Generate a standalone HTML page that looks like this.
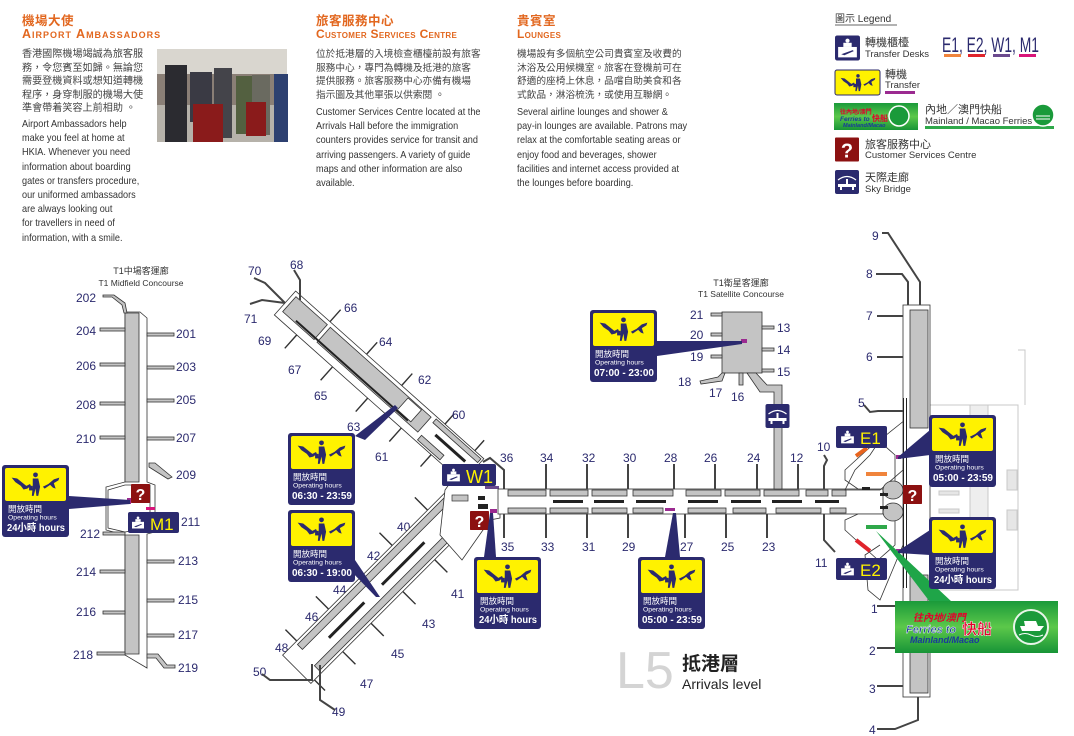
<!DOCTYPE html>
<html><head><meta charset="utf-8">
<style>
html,body{margin:0;padding:0;background:#fff;}
body{width:1074px;height:736px;overflow:hidden;position:relative;font-family:"Liberation Sans","Noto Sans CJK TC",sans-serif;}
.h{position:absolute;color:#e2671f;font-weight:bold;white-space:nowrap;}
.hc{font-size:12.5px;letter-spacing:0.5px;}
.he{font-size:12px;font-variant:small-caps;letter-spacing:0.3px;}
.b{position:absolute;color:#333;font-size:10.5px;line-height:14.2px;white-space:nowrap;transform:scaleX(0.87);transform-origin:0 0;}
.bc{position:absolute;color:#444;line-height:13.6px;white-space:nowrap;}
svg{position:absolute;left:0;top:0;}
</style></head><body>

<div class="h hc" style="left:22px;top:10px">機場大使</div>
<div class="h he" style="left:22px;top:27px;font-size:12.5px;letter-spacing:1px">Airport Ambassadors</div>
<div class="bc" style="left:22px;top:48px;font-size:10.1px">香港國際機場竭誠為旅客服<br>務，令您賓至如歸。無論您<br>需要登機資料或想知道轉機<br>程序，身穿制服的機場大使<br>準會帶着笑容上前相助 。</div>
<div class="b" style="left:22px;top:117px">Airport Ambassadors help<br>make you feel at home at<br>HKIA. Whenever you need<br>information about boarding<br>gates or transfers procedure,<br>our uniformed ambassadors<br>are always looking out<br>for travellers in need of<br>information, with a smile.</div>

<div class="h hc" style="left:316px;top:10px">旅客服務中心</div>
<div class="h he" style="left:316px;top:27px">Customer Services Centre</div>
<div class="bc" style="left:316px;top:48px;font-size:9.7px">位於抵港層的入境檢查櫃檯前設有旅客<br>服務中心，專門為轉機及抵港的旅客<br>提供服務。旅客服務中心亦備有機場<br>指示圖及其他單張以供索閱 。</div>
<div class="b" style="left:316px;top:105px">Customer Services Centre located at the<br>Arrivals Hall before the immigration<br>counters provides service for transit and<br>arriving passengers. A variety of guide<br>maps and other information are also<br>available.</div>

<div class="h hc" style="left:517px;top:10px">貴賓室</div>
<div class="h he" style="left:517px;top:27px">Lounges</div>
<div class="bc" style="left:517px;top:48px;font-size:9.7px">機場設有多個航空公司貴賓室及收費的<br>沐浴及公用候機室。旅客在登機前可在<br>舒適的座椅上休息，品嚐自助美食和各<br>式飲品，淋浴梳洗，或使用互聯網。</div>
<div class="b" style="left:517px;top:105px">Several airline lounges and shower &amp;<br>pay-in lounges are available. Patrons may<br>relax at the comfortable seating areas or<br>enjoy food and beverages, shower<br>facilities and internet access provided at<br>the lounges before boarding.</div>

<svg width="1074" height="736" viewBox="0 0 1074 736" font-family="Liberation Sans, Noto Sans CJK TC, sans-serif">
<defs>
<symbol id="ti" viewBox="0 0 60 30">
 <path d="M4 8 L10 9 L20 17 L24 15 L25 17 L21 20 L17 21 L14 17 L8 13 Z" fill="#2b2a6e"/>
 <circle cx="30" cy="5" r="2.6" fill="#2b2a6e"/>
 <path d="M27 9 L33 9 L35 18 L33 28 L31 28 L30 20 L28 28 L26 28 L27 18 Z" fill="#2b2a6e"/>
 <rect x="23" y="17" width="4" height="5" fill="#2b2a6e"/>
 <path d="M38 18 L44 15 L50 10 L56 8 L55 11 L50 14 L52 20 L49 19 L46 16 L40 20 Z" fill="#2b2a6e"/>
</symbol>
<symbol id="td" viewBox="0 0 24 24">
 <rect width="24" height="24" rx="2" fill="#2b2a6e"/>
 <circle cx="12" cy="5" r="2" fill="#fff"/>
 <rect x="8" y="7" width="8" height="4" fill="#fff"/>
 <rect x="3" y="11" width="18" height="10" fill="#fff"/>
 <path d="M6 18 L17 14 L18 15 L9 19 Z" fill="#2b2a6e"/>
</symbol>
<symbol id="q" viewBox="0 0 24 24">
 <rect width="24" height="24" rx="1" fill="#8c1111"/>
 <text x="12" y="20" font-size="20" font-weight="bold" fill="#fff" text-anchor="middle">?</text>
</symbol>
<symbol id="sb" viewBox="0 0 24 24">
 <rect width="24" height="24" rx="2" fill="#2b2a6e"/>
 <path d="M3 10 Q12 3 21 10" stroke="#fff" fill="none" stroke-width="1.2"/>
 <rect x="3" y="14" width="18" height="3" fill="#fff"/>
 <rect x="5" y="17" width="2" height="3" fill="#fff"/><rect x="17" y="17" width="2" height="3" fill="#fff"/>
 <rect x="11" y="9" width="2" height="5" fill="#fff"/>
</symbol>
<linearGradient id="gg" x1="0" y1="0" x2="0" y2="1"><stop offset="0" stop-color="#1a9a3a"/><stop offset="0.5" stop-color="#5cc84a"/><stop offset="1" stop-color="#179437"/></linearGradient>
</defs>

<!-- photo -->
<rect x="157" y="49" width="130" height="93" fill="#8a7f76"/>
<rect x="157" y="49" width="130" height="25" fill="#d9d6cf"/>
<rect x="157" y="105" width="130" height="37" fill="#b6b2aa"/>
<rect x="165" y="65" width="22" height="77" fill="#2b2b30"/>
<rect x="190" y="72" width="22" height="50" fill="#3a3a44"/>
<rect x="214" y="68" width="18" height="70" fill="#44444a"/>
<rect x="236" y="76" width="16" height="58" fill="#536040"/>
<rect x="252" y="75" width="18" height="60" fill="#6a6a60"/>
<rect x="274" y="74" width="14" height="68" fill="#2d4070"/>
<rect x="193" y="104" width="30" height="38" fill="#8a1b1b"/>
<rect x="246" y="102" width="20" height="34" fill="#8a1b1b"/>

<!-- legend -->
<text x="835" y="22" font-size="10" fill="#333">圖示 Legend</text>
<line x1="835" y1="25" x2="897" y2="25" stroke="#333" stroke-width="0.8"/>
<use href="#td" x="835" y="35" width="25" height="26"/>
<text x="865" y="46" font-size="11" fill="#333">轉機櫃檯</text>
<text x="865" y="57" font-size="9.5" fill="#333">Transfer Desks</text>
<text x="942" y="52" font-size="21" fill="#2b2a6e" textLength="97" lengthAdjust="spacingAndGlyphs">E1, E2, W1, M1</text>
<rect x="944" y="54" width="17" height="3" fill="#f0843c"/>
<rect x="968" y="54" width="17" height="3" fill="#e0242c"/>
<rect x="993" y="54" width="17" height="3" fill="#6b4a8e"/>
<rect x="1019" y="54" width="17" height="3" fill="#d9157a"/>
<rect x="835" y="70" width="45" height="25" rx="2" fill="#fff200" stroke="#2b2a6e" stroke-width="1"/>
<use href="#ti" x="838" y="72" width="40" height="21"/>
<text x="885" y="78" font-size="11" fill="#333">轉機</text>
<text x="885" y="88" font-size="9.5" fill="#333">Transfer</text>
<rect x="885" y="91" width="30" height="3" fill="#9b2a90"/>
<rect x="834" y="103" width="84" height="27" fill="url(#gg)"/>
<text x="840" y="114" font-size="6" fill="#e3002b" font-weight="bold">往內地/澳門</text>
<text x="840" y="121" font-size="6.5" fill="#1a3a9b" font-weight="bold" font-style="italic">Ferries to</text><text x="872" y="121" font-size="8" fill="#e3002b" font-weight="bold">快船</text>
<text x="843" y="127" font-size="5.5" fill="#1a3a9b" font-weight="bold" font-style="italic">Mainland/Macao</text>
<circle cx="899" cy="116" r="10" fill="#1a9a3a" stroke="#fff" stroke-width="1.5"/>
<text x="925" y="113" font-size="11" fill="#333">內地／澳門快船</text>
<text x="925" y="124" font-size="9.5" fill="#333">Mainland / Macao Ferries</text>
<rect x="925" y="126" width="129" height="3" fill="#2fa84a"/>
<circle cx="1043" cy="115" r="11" fill="#1a9a3a" stroke="#fff" stroke-width="1.5"/>
<path d="M1036 116 L1050 116 M1036 119 L1050 119" stroke="#fff" stroke-width="1"/>
<use href="#q" x="835" y="137" width="24" height="25"/>
<text x="865" y="148" font-size="11" fill="#333">旅客服務中心</text>
<text x="865" y="158" font-size="9.5" fill="#333">Customer Services Centre</text>
<use href="#sb" x="835" y="170" width="24" height="24"/>
<text x="865" y="181" font-size="11" fill="#333">天際走廊</text>
<text x="865" y="192" font-size="9.5" fill="#333">Sky Bridge</text>

<!-- Midfield concourse -->
<text x="141" y="274" font-size="9" fill="#333" text-anchor="middle">T1中場客運廊</text>
<text x="141" y="286" font-size="8.5" fill="#333" text-anchor="middle">T1 Midfield Concourse</text>
<g stroke="#333" stroke-width="0.8">
<path d="M125 312 L140 312 L147 318 L147 482 L155 485 L155 532 L147 534 L147 668 L125 655 L125 535 L106 530 L106 487 L125 482 Z" fill="#fff"/>
<path d="M125 313 L139 313 L139 482 L125 482 Z M125 535 L139 535 L139 654 L125 654 Z" fill="#c4c4c4"/>
<path d="M108 490 L125 485 L150 485 L150 528 L125 532 L108 528 Z" fill="#fff"/>
<g fill="#c4c4c4">
<path d="M103 297 L112 297 L122 305 L124 313 L127 313 L125 303 L114 295 L103 295 Z"/>
<rect x="100" y="328" width="25" height="3"/><rect x="100" y="363" width="25" height="3"/><rect x="100" y="402" width="25" height="3"/><rect x="100" y="436" width="25" height="3"/>
<rect x="103" y="532" width="22" height="3"/><rect x="100" y="570" width="25" height="3"/><rect x="103" y="611" width="22" height="3"/><rect x="97" y="652" width="28" height="3"/>
<rect x="147" y="333" width="27" height="3"/><rect x="147" y="366" width="27" height="3"/><rect x="147" y="399" width="27" height="3"/><rect x="147" y="437" width="27" height="3"/>
<path d="M149 463 L155 463 L172 477 L168 479 L149 467 Z"/>
<rect x="147" y="560" width="27" height="3"/><rect x="147" y="599" width="27" height="3"/><rect x="147" y="634" width="27" height="3"/>
<path d="M147 654 L158 654 L167 665 L175 665 L175 668 L164 668 L156 658 L147 658 Z"/>
</g></g>
<g font-size="12" fill="#2b2a6e">
<text x="96" y="302" text-anchor="end">202</text><text x="96" y="335" text-anchor="end">204</text><text x="96" y="370" text-anchor="end">206</text><text x="96" y="409" text-anchor="end">208</text><text x="96" y="443" text-anchor="end">210</text><text x="100" y="538" text-anchor="end">212</text><text x="96" y="576" text-anchor="end">214</text><text x="96" y="616" text-anchor="end">216</text><text x="93" y="659" text-anchor="end">218</text>
<text x="176" y="338">201</text><text x="176" y="371">203</text><text x="176" y="404">205</text><text x="176" y="442">207</text><text x="176" y="479">209</text><text x="181" y="526">211</text><text x="178" y="565">213</text><text x="178" y="604">215</text><text x="178" y="639">217</text><text x="178" y="672">219</text>
</g>
<use href="#q" x="131" y="484" width="19" height="19"/>
<rect x="127" y="498" width="4" height="6" fill="#9b2a90"/>
<rect x="146" y="507" width="9" height="3" fill="#d9157a"/>
<rect x="128" y="512" width="51" height="21" rx="2" fill="#2b2a6e"/>
<use href="#td" x="130" y="514" width="16" height="17"/>
<text x="150" y="530" font-size="17" fill="#fff200">M1</text>

<!-- NW arm -->
<g transform="translate(285,303) rotate(41.7)" stroke="#333" stroke-width="0.8">
 <rect x="0" y="-16" width="252" height="32" fill="#fff"/>
 <rect x="4" y="-12" width="42" height="20" fill="#c4c4c4"/>
 <rect x="50" y="-12" width="135" height="20" fill="#c4c4c4"/>
 <rect x="155" y="-11" width="18" height="16" fill="#fff"/>
 <rect x="190" y="8" width="30" height="6" fill="#c4c4c4"/>
 <rect x="190" y="-14" width="60" height="5" fill="#c4c4c4"/>
 <rect x="200" y="-3" width="40" height="3" fill="#222" stroke="none"/>
 <rect x="20" y="5" width="150" height="2" fill="#222" stroke="none"/>
 <g fill="none" stroke="#333" stroke-width="1.4">
 <path d="M46 -16 L46 -32 M95 -16 L95 -32 M142 -16 L142 -32 M200 -16 L200 -30 M240 -16 L240 -30"/>
 <path d="M30 16 L30 34 M78 16 L78 34 M125 16 L125 34 M170 16 L170 34 M210 16 L210 32"/>
 </g>
</g>
<g fill="none" stroke="#444" stroke-width="2">
<path d="M285 303 L265 283 L254 278 M285 303 L262 300 L250 304 M300 300 L300 280 L294 270"/>
</g>
<g font-size="12" fill="#2b2a6e">
<text x="248" y="275">70</text><text x="290" y="269">68</text><text x="244" y="323">71</text><text x="258" y="345">69</text><text x="344" y="312">66</text><text x="288" y="374">67</text><text x="379" y="346">64</text><text x="314" y="400">65</text><text x="418" y="384">62</text><text x="347" y="431">63</text><text x="452" y="419">60</text><text x="375" y="461">61</text>
<text x="397" y="531">40</text><text x="367" y="560">42</text><text x="451" y="598">41</text><text x="333" y="594">44</text><text x="422" y="628">43</text><text x="305" y="621">46</text><text x="391" y="658">45</text><text x="275" y="652">48</text><text x="360" y="688">47</text><text x="253" y="676">50</text><text x="332" y="716">49</text>
</g>

<!-- SW arm -->
<g transform="translate(470,496) rotate(135)" stroke="#333" stroke-width="0.8">
 <rect x="0" y="-20" width="245" height="40" fill="#fff"/>
 <rect x="40" y="-17" width="190" height="7" fill="#c4c4c4"/>
 <rect x="15" y="10" width="212" height="7" fill="#c4c4c4"/>
 <rect x="65" y="-2" width="60" height="3" fill="#222" stroke="none"/>
 <rect x="150" y="-2" width="50" height="3" fill="#222" stroke="none"/>
 <g fill="none" stroke="#333" stroke-width="1.4">
 <path d="M70 -20 L70 -38 M115 -20 L115 -38 M160 -20 L160 -38 M200 -20 L200 -38 M240 -20 L240 -35"/>
 <path d="M40 20 L40 38 M90 20 L90 38 M135 20 L135 38 M180 20 L180 38 M225 20 L225 36"/>
 </g>
</g>
<g fill="none" stroke="#444" stroke-width="2"><path d="M312 664 L312 680 L270 680 L262 674 M320 665 L320 700 L335 710"/></g>

<!-- W1 hub -->
<path d="M450 483 L490 483 L500 490 L500 518 L490 520 L462 560 L440 535 L445 490 Z" fill="#fff" stroke="#333" stroke-width="0.8"/>
<rect x="452" y="495" width="16" height="6" fill="#c4c4c4" stroke="#333" stroke-width="0.7"/>
<rect x="478" y="496" width="7" height="4" fill="#222"/><rect x="478" y="504" width="10" height="5" fill="#222"/>
<path d="M483 462 L490 458 L504 470 L504 490" fill="none" stroke="#444" stroke-width="2"/>
<rect x="442" y="464" width="54" height="22" rx="2" fill="#2b2a6e"/>
<use href="#td" x="445" y="466" width="17" height="18"/>
<text x="466" y="483" font-size="18" fill="#fff200">W1</text>
<rect x="485" y="486" width="14" height="3" fill="#6b4a8e"/>
<use href="#q" x="470" y="511" width="19" height="19"/>
<rect x="490" y="509" width="7" height="4" fill="#9b2a90"/>

<!-- Main pier -->
<g stroke="#333" stroke-width="0.8">
<rect x="498" y="489" width="385" height="25" fill="#fff"/>
<g fill="#c4c4c4">
<rect x="508" y="490" width="38" height="6"/><rect x="550" y="490" width="38" height="6"/><rect x="592" y="490" width="35" height="6"/><rect x="633" y="490" width="40" height="6"/><rect x="686" y="490" width="35" height="6"/><rect x="725" y="490" width="35" height="6"/><rect x="764" y="490" width="35" height="6"/><rect x="806" y="490" width="22" height="6"/><rect x="832" y="490" width="14" height="6"/>
<rect x="508" y="508" width="38" height="5"/><rect x="550" y="508" width="38" height="5"/><rect x="592" y="508" width="35" height="5"/><rect x="633" y="508" width="30" height="5"/><rect x="688" y="508" width="38" height="5"/><rect x="733" y="508" width="33" height="5"/><rect x="776" y="508" width="45" height="5"/><rect x="830" y="508" width="16" height="5"/>
</g></g>
<g fill="#222"><rect x="553" y="500" width="30" height="3"/><rect x="594" y="500" width="30" height="3"/><rect x="636" y="500" width="30" height="3"/><rect x="688" y="500" width="30" height="3"/><rect x="731" y="500" width="30" height="3"/><rect x="772" y="500" width="30" height="3"/><rect x="815" y="500" width="24" height="3"/></g>
<g stroke="#444" stroke-width="2" fill="none">
<path d="M546 464 V489 M587 464 V489 M628 464 V489 M674 464 V489 M715 464 V489 M757 464 V489 M798 464 V489 M824 455 L827 460 L824 466 V489"/>
<path d="M504 514 V538 M546 514 V538 M587 514 V538 M628 514 V538 M685 514 V538 M726 514 V538 M767 514 V538 M824 514 V540 L835 552"/>
</g>
<g font-size="12" fill="#2b2a6e">
<text x="500" y="462">36</text><text x="540" y="462">34</text><text x="582" y="462">32</text><text x="623" y="462">30</text><text x="664" y="462">28</text><text x="704" y="462">26</text><text x="747" y="462">24</text><text x="790" y="462">12</text><text x="817" y="451">10</text>
<text x="501" y="551">35</text><text x="541" y="551">33</text><text x="582" y="551">31</text><text x="622" y="551">29</text><text x="680" y="551">27</text><text x="721" y="551">25</text><text x="762" y="551">23</text><text x="815" y="567">11</text>
</g>
<rect x="665" y="508" width="10" height="3" fill="#9b2a90"/>

<!-- Satellite + sky bridge -->
<text x="741" y="286" font-size="9" fill="#333" text-anchor="middle">T1衛星客運廊</text>
<text x="741" y="297" font-size="8.5" fill="#333" text-anchor="middle">T1 Satellite Concourse</text>
<g stroke="#333" stroke-width="0.8" fill="#c4c4c4">
<rect x="722" y="312" width="40" height="61"/>
<path d="M747 373 L756 373 L767 385 L782 385 L782 489 L774 489 L774 392 L760 392 Z"/>
<rect x="711" y="313" width="11" height="3"/><rect x="711" y="333" width="11" height="3"/><rect x="711" y="355" width="11" height="3"/>
<rect x="762" y="326" width="12" height="3"/><rect x="762" y="348" width="12" height="3"/><rect x="762" y="369" width="12" height="3"/>
<path d="M700 381 L718 377 L722 373 L725 373 L722 381 L701 384 Z"/>
<rect x="739" y="373" width="4" height="12"/>
</g>
<rect x="741" y="339" width="6" height="4" fill="#9b2a90"/>
<use href="#sb" x="765" y="404" width="25" height="24"/>
<g font-size="12" fill="#2b2a6e"><text x="690" y="319">21</text><text x="690" y="339">20</text><text x="690" y="361">19</text><text x="678" y="386">18</text><text x="709" y="397">17</text><text x="731" y="401">16</text><text x="777" y="332">13</text><text x="777" y="354">14</text><text x="777" y="376">15</text></g>

<!-- right faint building -->
<g stroke="#c8c8c8" stroke-width="1" fill="none">
<path d="M930 405 L1018 405 L1018 590 L930 590 M1018 350 L1025 350 L1025 405"/>
<rect x="970" y="405" width="18" height="185" fill="#eee"/>
<rect x="939" y="491" width="20" height="4" fill="#e6e6e6"/><rect x="939" y="509" width="20" height="4" fill="#e6e6e6"/>
<rect x="1007" y="470" width="10" height="20" fill="#e6e6e6"/><rect x="1007" y="510" width="10" height="20" fill="#e6e6e6"/>
</g>

<!-- East building -->
<g stroke="#333" stroke-width="0.8">
<rect x="903" y="305" width="27" height="392" fill="#fff"/>
<rect x="910" y="310" width="18" height="118" fill="#c4c4c4"/>
<rect x="910" y="575" width="18" height="118" fill="#c4c4c4"/>
<path d="M880 514 L890 514 L895 520 L895 545 L878 560 L845 530 L845 520 L858 514 Z" fill="#fff"/>
<path d="M883 489 L890 489 L895 482 L895 455 L878 440 L845 470 L845 480 L858 489 Z" fill="#fff"/>
<path d="M905 420 L880 440 L870 455 L855 470 L845 490 L880 490 L903 470 Z" fill="none"/>
<path d="M903 545 L880 600 L868 590 L865 555 L880 545" fill="none"/>
<ellipse cx="893" cy="490" rx="10" ry="9" fill="#c4c4c4"/><ellipse cx="893" cy="512" rx="10" ry="9" fill="#c4c4c4"/>
</g>
<g fill="#222"><rect x="862" y="487" width="8" height="3"/><rect x="880" y="493" width="8" height="3"/><rect x="880" y="506" width="8" height="3"/><rect x="903" y="398" width="4" height="190"/></g>
<rect x="904" y="398" width="2" height="190" fill="#fff"/>
<g stroke="#e8641e" stroke-width="4"><path d="M856 456 L867 448"/></g>
<rect x="866" y="472" width="21" height="4" fill="#f0843c"/>
<rect x="866" y="525" width="21" height="4" fill="#2fa84a"/>
<path d="M856 540 L870 551" stroke="#e0242c" stroke-width="4"/>
<rect x="896" y="455" width="5" height="4" fill="#9b2a90"/><rect x="896" y="549" width="5" height="4" fill="#9b2a90"/>
<g stroke="#444" stroke-width="2" fill="none">
<path d="M882 233 L888 233 L920 282 L920 305 M876 274 L902 274 L908 282 L908 305 M877 316 L903 316 M877 357 L903 357 M864 405 L870 412 L878 411 L903 411 M877 606 L903 606 M877 648 L903 648 M877 686 L903 686 M877 729 L895 729 L918 720 L918 697"/>
</g>
<g font-size="12" fill="#2b2a6e"><text x="872" y="240">9</text><text x="866" y="278">8</text><text x="866" y="320">7</text><text x="866" y="361">6</text><text x="858" y="407">5</text><text x="871" y="613">1</text><text x="869" y="655">2</text><text x="869" y="693">3</text><text x="869" y="734">4</text></g>
<rect x="836" y="426" width="51" height="22" rx="2" fill="#2b2a6e"/>
<use href="#td" x="839" y="428" width="17" height="18"/>
<text x="860" y="444" font-size="17" fill="#fff200">E1</text>
<rect x="836" y="558" width="51" height="22" rx="2" fill="#2b2a6e"/>
<use href="#td" x="839" y="560" width="17" height="18"/>
<text x="860" y="576" font-size="17" fill="#fff200">E2</text>
<use href="#q" x="903" y="485" width="19" height="19"/>

<!-- ferry pointer & banner -->
<path d="M876 531 L930 602 L952 602 Z" fill="#1fa548"/>
<rect x="895" y="601" width="163" height="52" fill="url(#gg)"/>
<text x="913" y="621" font-size="10" fill="#e3002b" font-weight="bold" font-style="italic">往內地/澳門</text>
<text x="906" y="633" font-size="11" fill="#1a3a9b" font-weight="bold" font-style="italic" stroke="#fff" stroke-width="0.4">Ferries to</text>
<text x="962" y="634" font-size="15" fill="#e3002b" font-weight="bold" stroke="#fff" stroke-width="0.4">快船</text>
<text x="910" y="643" font-size="9" fill="#1a3a9b" font-weight="bold" font-style="italic">Mainland/Macao</text>
<circle cx="1031" cy="627" r="17" fill="#1a9a3a" stroke="#e8f5e8" stroke-width="2"/>
<path d="M1020 626 L1044 626 L1040 631 L1022 631 Z M1024 621 L1036 621 L1038 626 L1025 626 Z" fill="#fff"/>
<path d="M1019 635 Q1025 632 1031 635 T1043 635" stroke="#fff" fill="none"/>

<!-- Transfer signs -->
<g fill="#2b2a6e">
<path d="M69 496 L130 500 L130 504 L69 509 Z"/>
<path d="M355 436 L395 405 L398 408 L365 440 Z"/>
<path d="M355 560 L380 597 L376 597 L350 570 Z"/>
<path d="M657 341 L742 341 L742 344 L657 356 Z"/>
<path d="M484 557 L490 513 L493 513 L496 557 Z"/>
<path d="M665 557 L673 513 L676 513 L680 557 Z"/>
<path d="M930 430 L898 457 L898 459 L930 455 Z"/>
<path d="M930 530 L898 551 L898 553 L930 555 Z"/>
</g>
<g>
<g transform="translate(2,465)"><rect width="67" height="72" rx="3" fill="#2b2a6e"/><rect x="3" y="3" width="61" height="33" rx="2" fill="#fff200"/><use href="#ti" x="6" y="4" width="55" height="30"/><text x="6" y="47" font-size="8.5" fill="#fff">開放時間</text><text x="6" y="54.5" font-size="6.8" fill="#fff">Operating hours</text><text x="5" y="66" font-size="10" font-weight="bold" fill="#fff" textLength="58" lengthAdjust="spacingAndGlyphs">24小時 hours</text></g>
<g transform="translate(288,433)"><rect width="67" height="72" rx="3" fill="#2b2a6e"/><rect x="3" y="3" width="61" height="33" rx="2" fill="#fff200"/><use href="#ti" x="6" y="4" width="55" height="30"/><text x="5" y="47" font-size="8.5" fill="#fff">開放時間</text><text x="5" y="54.5" font-size="6.8" fill="#fff">Operating hours</text><text x="4" y="66" font-size="10" font-weight="bold" fill="#fff" textLength="60" lengthAdjust="spacingAndGlyphs">06:30 - 23:59</text></g>
<g transform="translate(288,510)"><rect width="67" height="72" rx="3" fill="#2b2a6e"/><rect x="3" y="3" width="61" height="33" rx="2" fill="#fff200"/><use href="#ti" x="6" y="4" width="55" height="30"/><text x="5" y="47" font-size="8.5" fill="#fff">開放時間</text><text x="5" y="54.5" font-size="6.8" fill="#fff">Operating hours</text><text x="4" y="66" font-size="10" font-weight="bold" fill="#fff" textLength="60" lengthAdjust="spacingAndGlyphs">06:30 - 19:00</text></g>
<g transform="translate(590,310)"><rect width="67" height="72" rx="3" fill="#2b2a6e"/><rect x="3" y="3" width="61" height="33" rx="2" fill="#fff200"/><use href="#ti" x="6" y="4" width="55" height="30"/><text x="5" y="47" font-size="8.5" fill="#fff">開放時間</text><text x="5" y="54.5" font-size="6.8" fill="#fff">Operating hours</text><text x="4" y="66" font-size="10" font-weight="bold" fill="#fff" textLength="60" lengthAdjust="spacingAndGlyphs">07:00 - 23:00</text></g>
<g transform="translate(474,557)"><rect width="67" height="72" rx="3" fill="#2b2a6e"/><rect x="3" y="3" width="61" height="33" rx="2" fill="#fff200"/><use href="#ti" x="6" y="4" width="55" height="30"/><text x="6" y="47" font-size="8.5" fill="#fff">開放時間</text><text x="6" y="54.5" font-size="6.8" fill="#fff">Operating hours</text><text x="5" y="66" font-size="10" font-weight="bold" fill="#fff" textLength="58" lengthAdjust="spacingAndGlyphs">24小時 hours</text></g>
<g transform="translate(638,557)"><rect width="67" height="72" rx="3" fill="#2b2a6e"/><rect x="3" y="3" width="61" height="33" rx="2" fill="#fff200"/><use href="#ti" x="6" y="4" width="55" height="30"/><text x="5" y="47" font-size="8.5" fill="#fff">開放時間</text><text x="5" y="54.5" font-size="6.8" fill="#fff">Operating hours</text><text x="4" y="66" font-size="10" font-weight="bold" fill="#fff" textLength="60" lengthAdjust="spacingAndGlyphs">05:00 - 23:59</text></g>
<g transform="translate(929,415)"><rect width="67" height="72" rx="3" fill="#2b2a6e"/><rect x="3" y="3" width="61" height="33" rx="2" fill="#fff200"/><use href="#ti" x="6" y="4" width="55" height="30"/><text x="6" y="47" font-size="8.5" fill="#fff">開放時間</text><text x="6" y="54.5" font-size="6.8" fill="#fff">Operating hours</text><text x="4" y="66" font-size="10" font-weight="bold" fill="#fff" textLength="60" lengthAdjust="spacingAndGlyphs">05:00 - 23:59</text></g>
<g transform="translate(929,517)"><rect width="67" height="72" rx="3" fill="#2b2a6e"/><rect x="3" y="3" width="61" height="33" rx="2" fill="#fff200"/><use href="#ti" x="6" y="4" width="55" height="30"/><text x="6" y="47" font-size="8.5" fill="#fff">開放時間</text><text x="6" y="54.5" font-size="6.8" fill="#fff">Operating hours</text><text x="5" y="66" font-size="10" font-weight="bold" fill="#fff" textLength="58" lengthAdjust="spacingAndGlyphs">24小時 hours</text></g>
</g>

<!-- L5 -->
<text x="616" y="688" font-size="52" fill="#d4d4d4">L5</text>
<text x="682" y="670" font-size="19" font-weight="bold" fill="#222">抵港層</text>
<text x="682" y="689" font-size="14" fill="#222">Arrivals level</text>
</svg>
</body></html>
